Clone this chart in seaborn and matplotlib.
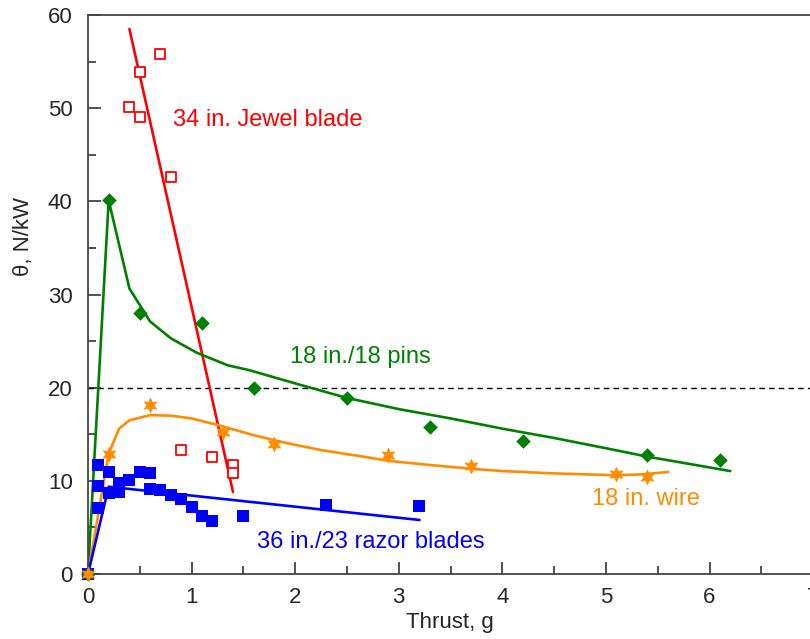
import matplotlib
matplotlib.use("Agg")
import matplotlib.pyplot as plt
import seaborn as sns
import pandas as pd
from matplotlib.ticker import MultipleLocator

# ── Data ──────────────────────────────────────────────────────────────────── #
jewel_x = [0.70, 0.50, 0.40, 0.50, 0.80, 0.90, 1.20, 1.40, 1.40]
jewel_y = [55.8, 53.9, 50.1, 49.1, 42.6, 13.3, 12.6, 11.7, 10.8]
jewel_fit_x = [0.40, 1.40]
jewel_fit_y = [58.5, 8.8]

pins_x = [0.0, 0.2, 0.5, 1.1, 1.6, 2.5, 3.3, 4.2, 5.4, 6.1]
pins_y = [0.0, 40.1, 28.0, 26.9, 20.0, 18.9, 15.8, 14.3, 12.8, 12.2]
pins_fit_x = [0.0, 0.2, 0.4, 0.6, 0.8, 1.05, 1.35, 1.55, 2.05, 2.5, 3.0, 3.5, 4.0, 4.5, 5.0, 5.4, 6.2]
pins_fit_y = [0.0, 40.1, 30.65, 27.1, 25.3, 23.75, 22.4, 21.9, 20.3, 18.9, 17.7, 16.7, 15.6, 14.6, 13.5, 12.6, 11.05]

wire_x = [0.0, 0.2, 0.6, 1.3, 1.8, 2.9, 3.7, 5.1, 5.4]
wire_y = [0.0, 12.9, 18.1, 15.2, 14.0, 12.8, 11.6, 10.7, 10.4]
wire_fit_x = [0.0, 0.2, 0.3, 0.4, 0.6, 0.8, 1.0, 1.25, 1.6, 1.9, 2.25, 2.6, 2.9, 3.3,
              3.7, 4.0, 4.5, 5.1, 5.35, 5.6]
wire_fit_y = [0.0, 12.9, 15.6, 16.5, 17.05, 17.0, 16.7, 16.0, 14.9, 14.1, 13.3, 12.7, 12.15, 11.7,
              11.3, 11.05, 10.8, 10.6, 10.7, 10.95]

razor_x = [0.0, 0.1, 0.1, 0.1, 0.2, 0.2, 0.3, 0.3, 0.4, 0.5, 0.6, 0.6,
           0.7, 0.8, 0.9, 1.0, 1.1, 1.2, 1.5, 2.3, 3.2]
razor_y = [0.0, 11.7, 9.5, 7.1, 11.0, 8.7, 8.8, 9.8, 10.1, 11.0, 10.8, 9.1,
           9.0, 8.5, 8.1, 7.2, 6.2, 5.7, 6.2, 7.4, 7.3]
razor_fit_x = [0.0, 0.2, 3.2]
razor_fit_y = [0.0, 9.37, 5.8]

RED = "#ff0000"
GREEN = "#008000"
ORANGE = "#ff8c00"
BLUE = "#0000ff"

# ── Style ─────────────────────────────────────────────────────────────────── #
sns.set_style("ticks")
plt.rcParams["font.family"] = ["Liberation Sans", "DejaVu Sans"]

fig = plt.figure(figsize=(8.1, 6.39), dpi=100)
ax = fig.add_axes([0.1086, 0.1017, 0.8953, 0.8748])

# fitted curves
for fx, fy, col in [(jewel_fit_x, jewel_fit_y, RED),
                    (pins_fit_x, pins_fit_y, GREEN),
                    (wire_fit_x, wire_fit_y, ORANGE),
                    (razor_fit_x, razor_fit_y, BLUE)]:
    sns.lineplot(data=pd.DataFrame({"x": fx, "y": fy}), x="x", y="y",
                 sort=False, estimator=None, color=col, lw=1.9, ax=ax)

ax.axhline(20, color="black", lw=1.0, ls=(0, (4, 3)), zorder=1)

# measured points
sns.scatterplot(x=razor_x, y=razor_y, marker="s", s=70, color=BLUE,
                edgecolor=BLUE, linewidth=0, ax=ax, clip_on=False, zorder=4)
sns.scatterplot(x=jewel_x, y=jewel_y, marker="s", s=55, facecolor="white",
                edgecolor=RED, linewidth=1.3, ax=ax, clip_on=False, zorder=4)
sns.scatterplot(x=pins_x, y=pins_y, marker="D", s=55, color=GREEN,
                edgecolor=GREEN, linewidth=0, ax=ax, clip_on=False, zorder=4)
sns.scatterplot(x=wire_x, y=wire_y, marker=(6, 1, 0), s=110, color=ORANGE,
                edgecolor=ORANGE, linewidth=0.5, ax=ax, clip_on=False, zorder=5)

# labels on the curves
ax.text(0.82, 48.7, "34 in. Jewel blade", color=RED, fontsize=17, va="center")
ax.text(1.95, 23.3, "18 in./18 pins", color=GREEN, fontsize=17, va="center")
ax.text(4.87, 8.1, "18 in. wire", color=ORANGE, fontsize=17, va="center")
ax.text(1.63, 3.4, "36 in./23 razor blades", color=BLUE, fontsize=17, va="center")

# ── Axes ──────────────────────────────────────────────────────────────────── #
ax.set_xlim(0, 7)
ax.set_ylim(0, 60)
ax.xaxis.set_major_locator(MultipleLocator(1))
ax.xaxis.set_minor_locator(MultipleLocator(0.5))
ax.yaxis.set_major_locator(MultipleLocator(10))
ax.yaxis.set_minor_locator(MultipleLocator(5))
ax.tick_params(which="both", direction="in", labelsize=16, width=1.2,
               color="#333333")
ax.tick_params(axis="x", pad=9)
ax.tick_params(axis="y", pad=11)
ax.tick_params(which="major", length=9)
ax.tick_params(which="minor", length=5.5)
for sp in ax.spines.values():
    sp.set_linewidth(1.3)
    sp.set_color("#444444")

ax.set_xlabel("Thrust, g", fontsize=16)
ax.set_ylabel("θ, N/kW", fontsize=16)
ax.xaxis.set_label_coords(0.4985, -0.068)
ax.yaxis.set_label_coords(-0.0747, 0.603)

fig.savefig("out.png", dpi=100)
